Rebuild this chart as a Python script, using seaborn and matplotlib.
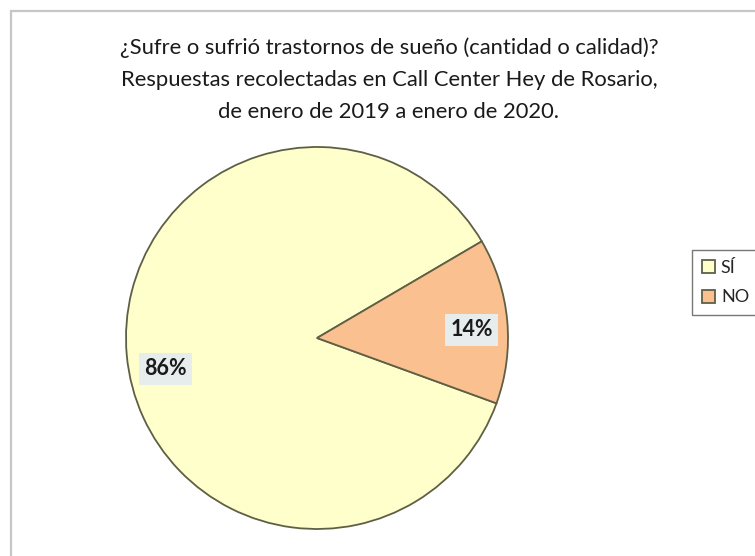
import numpy as np
import matplotlib
matplotlib.use("Agg")
import matplotlib.pyplot as plt
from matplotlib.patches import Rectangle
import seaborn as sns

# Survey answers and their shares (percent)
categories = ["SÍ", "NO"]
shares = [86, 14]
slice_colors = ["#FFFFCC", "#FAC090"]
title_lines = [
    "¿Sufre o sufrió trastornos de sueño (cantidad o calidad)?",
    "Respuestas recolectadas en Call Center Hey de Rosario,",
    "de enero de 2019 a enero de 2020.",
]

sns.set_theme(style="white")
plt.rcParams["font.family"] = ["Lato", "DejaVu Sans"]

W, H = 755, 556
fig = plt.figure(figsize=(W / 100, H / 100), dpi=100)
fig.patch.set_facecolor("white")

# Outer chart-area frame
fig.add_artist(Rectangle((11 / W, -0.05), 1.2, 1 - 11 / H + 0.05,
                         transform=fig.transFigure, fill=False,
                         edgecolor="#c6c6c6", linewidth=1.6))

# Pie placement
cx, cy, r = 317, 338, 191
ax = fig.add_axes([(cx - r) / W, (H - cy - r) / H, 2 * r / W, 2 * r / H])
wedges, texts, autotexts = ax.pie(
    shares, labels=None, colors=slice_colors, startangle=30.4,
    counterclock=True, autopct="%d%%", pctdistance=0.81,
    wedgeprops=dict(edgecolor="#5f5f45", linewidth=1.3),
    textprops=dict(fontsize=15.5, fontweight="bold", color="#1a1a1a"),
)
ax.set_xlim(-1, 1)
ax.set_ylim(-1, 1)
ax.set_aspect("equal")
ax.axis("off")

# Label placement around each slice
label_angles = [191.5, 3.0]
label_dist = [0.81, 0.81]
for t, a, d in zip(autotexts, label_angles, label_dist):
    t.set_position((d * np.cos(np.radians(a)), d * np.sin(np.radians(a))))
    t.set_bbox(dict(boxstyle="square,pad=0.25", facecolor="#E6EDEC",
                    edgecolor="none"))

# Title
for i, line in enumerate(title_lines):
    fig.text(389 / W, 1 - (48 + i * 32) / H, line, ha="center", va="center",
             fontsize=15.8, color="#1a1a1a")

# Legend (runs off the right edge of the chart area)
leg = fig.legend(wedges, categories, loc="upper left",
                 bbox_to_anchor=(692 / W, 1 - 250 / H),
                 frameon=True, fancybox=False, fontsize=13,
                 handlelength=0.75, handleheight=0.75, handletextpad=0.3,
                 labelspacing=0.75, borderpad=0.55, borderaxespad=0)
leg.get_frame().set_edgecolor("#555555")
leg.get_frame().set_linewidth(1.0)

fig.savefig("out.png", dpi=100)
